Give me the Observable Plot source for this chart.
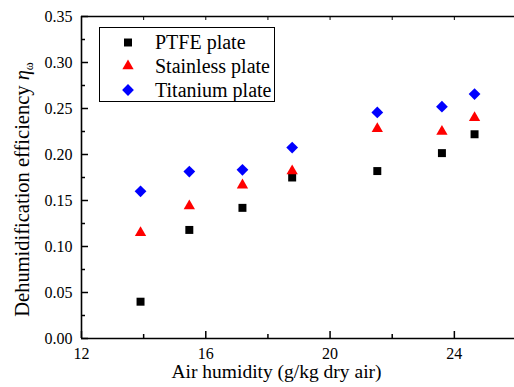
<!DOCTYPE html>
<html><head><meta charset="utf-8">
<script src="https://cdn.jsdelivr.net/npm/d3@7"></script>
<script src="https://cdn.jsdelivr.net/npm/@observablehq/plot@0.6"></script>
<style>
body{margin:0;background:#fff}
#chart{position:relative;width:514px;height:387px;overflow:hidden}
#chart svg text{font-family:"Liberation Serif","Times New Roman",serif}
</style>
</head><body><div id="chart"></div>
<script>
const humidity = [13.9, 15.47, 17.18, 18.78, 21.52, 23.6, 24.65];
const ptfe = [0.040, 0.118, 0.142, 0.175, 0.182, 0.2015, 0.222];
const stainless = [0.115, 0.144, 0.1667, 0.182, 0.228, 0.225, 0.240];
const titanium = [0.160, 0.1815, 0.1834, 0.2076, 0.2457, 0.252, 0.2657];
const seriesNames = ["PTFE plate", "Stainless plate", "Titanium plate"];
const xMajor = [12, 16, 20, 24];
const xMinor = [14, 18, 22];
const yMajor = [0, 0.05, 0.10, 0.15, 0.20, 0.25, 0.30, 0.35];
const yMinor = [0.025, 0.075, 0.125, 0.175, 0.225, 0.275, 0.325];
const xLabel = "Air humidity (g/kg dry air)";
const yLabel = "Dehumidification efficiency ";

const font = '"Liberation Serif","Times New Roman",serif';
const rows = humidity.map((h, i) => ({h, ptfe: ptfe[i], stainless: stainless[i], titanium: titanium[i]}));
const styles = [
  {key: "ptfe", symbol: "square", r: 4.5, fill: "#000000"},
  {key: "stainless", symbol: "triangle", r: 4.2, fill: "#ff0000"},
  {key: "titanium", symbol: "diamond2", r: 5.3, fill: "#0000ff"}
];

const plot = Plot.plot({
  width: 514, height: 387,
  marginTop: 16, marginBottom: 49, marginLeft: 81, marginRight: -2,
  style: {fontFamily: font, fontSize: "16px", background: "white", color: "black", overflow: "visible"},
  x: {domain: [12, 26]},
  y: {domain: [0, 0.35]},
  marks: [
    Plot.axisX({ticks: xMajor, tickSize: 0, tickPadding: 9.5, fontSize: 16, fontFamily: font, label: null}),
    Plot.axisX({ticks: xMajor, tickSize: -7, fill: "none", strokeWidth: 1.5, label: null}),
    Plot.axisX({ticks: xMinor, tickSize: -4, fill: "none", strokeWidth: 1.5, label: null}),
    Plot.axisX({ticks: xMajor.concat(xMinor), anchor: "top", tickSize: -3, fill: "none", strokeWidth: 1, label: null}),
    Plot.axisY({ticks: yMajor, tickSize: 0, tickPadding: 9, tickFormat: d3.format(".2f"), fontSize: 16, fontFamily: font, label: null}),
    Plot.axisY({ticks: yMajor, tickSize: -7, fill: "none", strokeWidth: 1.5, label: null}),
    Plot.axisY({ticks: yMinor, tickSize: -4, fill: "none", strokeWidth: 1.5, label: null}),
    Plot.ruleY([0], {strokeWidth: 1.6}),
    Plot.ruleY([0.35], {strokeWidth: 1.6}),
    Plot.ruleX([12], {strokeWidth: 1.6}),
    ...styles.map(s => Plot.dot(rows, {x: "h", y: s.key, symbol: s.symbol, r: s.r, fill: s.fill}))
  ]
});

const svg = d3.select(plot);
// Legend
const lg = svg.append("g").attr("font-family", font).attr("font-size", 20).attr("text-anchor", "start");
lg.append("rect").attr("x", 99.5).attr("y", 27.5).attr("width", 175).attr("height", 74)
  .attr("fill", "white").attr("stroke", "black").attr("stroke-width", 1);
const symMap = {square: d3.symbolSquare, triangle: d3.symbolTriangle, diamond2: d3.symbolDiamond2};
const rowY = [42.5, 66, 90];
const baseY = [48.5, 72.5, 96.5];
styles.forEach((s, i) => {
  lg.append("path").attr("transform", `translate(128,${rowY[i]})`)
    .attr("d", d3.symbol(symMap[s.symbol], Math.PI * s.r * s.r)()).attr("fill", s.fill);
  lg.append("text").attr("x", 155).attr("y", baseY[i]).attr("fill", "black").text(seriesNames[i]);
});
// X label
svg.append("text").attr("x", 276.5).attr("y", 378).attr("text-anchor", "middle")
  .attr("font-family", font).attr("font-size", 19.5).attr("fill", "black").text(xLabel);
// Y label
const yt = svg.append("text").attr("transform", "translate(29,189.5) rotate(-90)")
  .attr("text-anchor", "middle").attr("font-family", font).attr("font-size", 20.5).attr("fill", "black");
yt.append("tspan").text(yLabel);
yt.append("tspan").attr("font-style", "italic").text("η");
yt.append("tspan").attr("font-size", 12).attr("dy", 4).text("ω");

document.getElementById("chart").appendChild(plot);
</script>
</body></html>
